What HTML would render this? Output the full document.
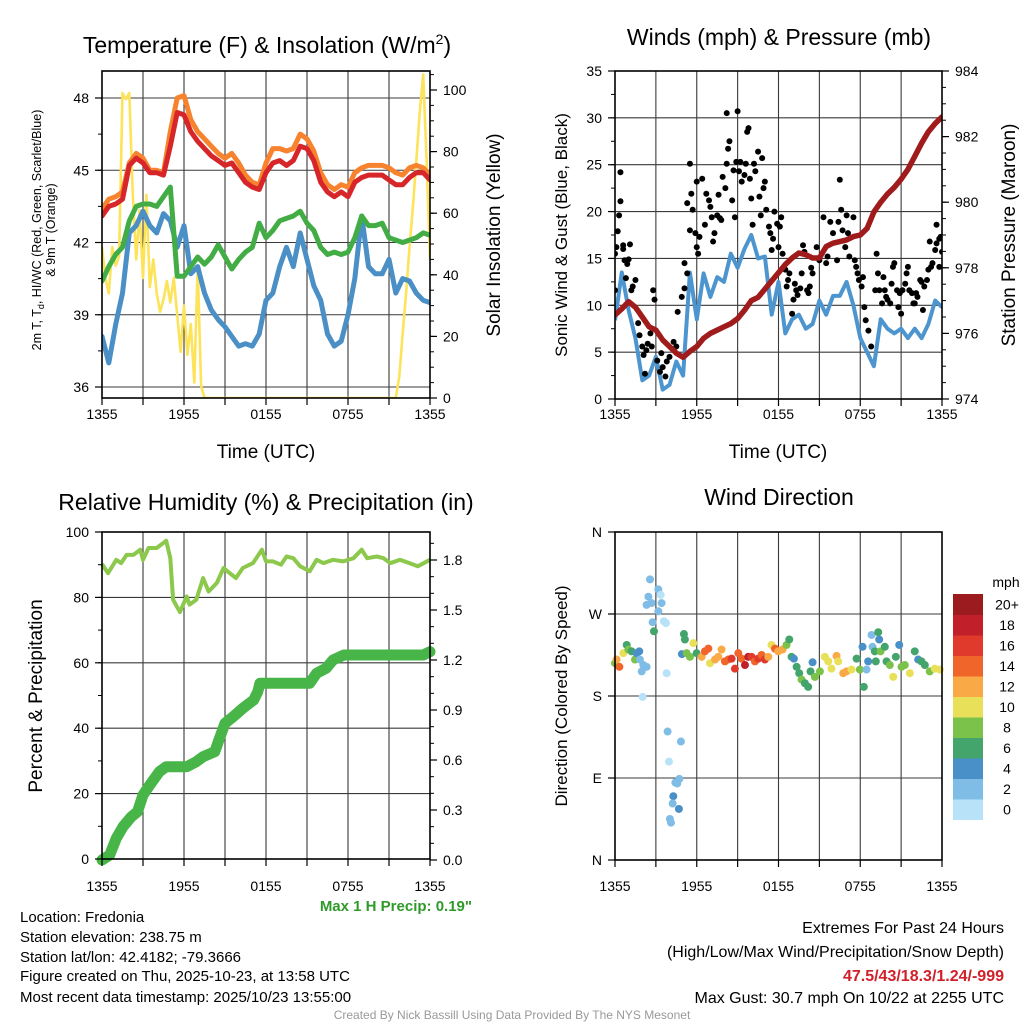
<!DOCTYPE html>
<html><head><meta charset="utf-8">
<style>
html,body{margin:0;padding:0;background:#fff;}
svg{display:block;font-family:"Liberation Sans",Arial,sans-serif;}
</style></head>
<body>
<svg id="chart" width="1024" height="1024" viewBox="0 0 1024 1024" xmlns="http://www.w3.org/2000/svg">
<rect x="0" y="0" width="1024" height="1024" fill="#fff"/>
<text x="267" y="53" font-size="23" text-anchor="middle">Temperature (F) &amp; Insolation (W/m<tspan font-size="14" dy="-9">2</tspan><tspan dy="9">)</tspan></text>
<text x="779" y="45" font-size="23" text-anchor="middle">Winds (mph) &amp; Pressure (mb)</text>
<text x="266" y="510" font-size="23" text-anchor="middle">Relative Humidity (%) &amp; Precipitation (in)</text>
<text x="779" y="505" font-size="23" text-anchor="middle">Wind Direction</text>

<text font-size="12.5" text-anchor="middle" transform="translate(41,230) rotate(-90)">2m T, T<tspan font-size="9" dy="3">d</tspan><tspan dy="-3">, HI/WC (Red, Green, Scarlet/Blue)</tspan></text>
<text font-size="12.5" text-anchor="middle" transform="translate(55,230) rotate(-90)">&amp; 9m T (Orange)</text>
<text font-size="19" text-anchor="middle" transform="translate(500,235) rotate(-90)">Solar Insolation (Yellow)</text>
<text font-size="17" text-anchor="middle" transform="translate(567,235) rotate(-90)">Sonic Wind &amp; Gust (Blue, Black)</text>
<text font-size="19" text-anchor="middle" transform="translate(1015,235) rotate(-90)">Station Pressure (Maroon)</text>
<text font-size="19" text-anchor="middle" transform="translate(42,696) rotate(-90)">Percent &amp; Precipitation</text>
<text font-size="17" text-anchor="middle" transform="translate(567,696) rotate(-90)">Direction (Colored By Speed)</text>
<text x="266" y="458" font-size="19" text-anchor="middle">Time (UTC)</text>
<text x="778" y="458" font-size="19" text-anchor="middle">Time (UTC)</text>

<text x="472" y="911" font-size="15" font-weight="bold" fill="#2f9a2a" text-anchor="end">Max 1 H Precip: 0.19"</text>
<g font-size="15" fill="#000">
<text x="20" y="922">Location: Fredonia</text>
<text x="20" y="942">Station elevation: 238.75 m</text>
<text x="20" y="962">Station lat/lon: 42.4182; -79.3666</text>
<text x="20" y="981">Figure created on Thu, 2025-10-23, at 13:58 UTC</text>
<text x="20" y="1002">Most recent data timestamp: 2025/10/23 13:55:00</text>
</g>
<g font-size="16" text-anchor="end">
<text x="1004" y="933">Extremes For Past 24 Hours</text>
<text x="1004" y="957">(High/Low/Max Wind/Precipitation/Snow Depth)</text>
<text x="1004" y="981" font-weight="bold" fill="#d0202a">47.5/43/18.3/1.24/-999</text>
<text x="1004" y="1003">Max Gust: 30.7 mph On 10/22 at 2255 UTC</text>
</g>
<text x="512" y="1019" font-size="12" fill="#999" text-anchor="middle">Created By Nick Bassill Using Data Provided By The NYS Mesonet</text>
<g id="layer"></g>
</svg>
<script>
// ---------- data ----------
const halfHours = [0,0.5,1,1.5,2,2.5,3,3.5,4,4.5,5,5.5,6,6.5,7,7.5,8,8.5,9,9.5,10,10.5,11,11.5,12,12.5,13,13.5,14,14.5,15,15.5,16,16.5,17,17.5,18,18.5,19,19.5,20,20.5,21,21.5,22,22.5,23,23.5,24];
const tempRed = [43.1,43.5,43.6,43.8,45.2,45.5,45.3,44.9,44.9,44.8,46.0,47.4,47.3,46.6,46.2,45.9,45.6,45.4,45.2,45.3,44.9,44.5,44.3,44.2,44.9,45.3,45.4,45.2,45.4,46.0,45.9,45.4,44.5,44.1,43.9,44.1,43.9,44.5,44.7,44.8,44.8,44.8,44.6,44.4,44.4,44.7,44.9,44.9,44.6];
const temp9m = [43.4,43.8,43.9,44.1,45.3,45.7,45.5,45.0,45.0,44.9,46.6,48.0,48.1,47.1,46.6,46.3,46.0,45.7,45.5,45.7,45.3,44.8,44.5,44.4,45.3,45.9,45.9,45.8,45.9,46.5,46.3,45.8,44.9,44.4,44.2,44.4,44.3,44.9,45.1,45.2,45.2,45.2,45.1,44.9,44.8,45.1,45.2,45.1,44.8];
const dewGreen = [40.4,41.0,41.5,41.8,42.9,43.5,43.6,43.6,43.5,43.9,44.3,40.6,40.6,41.0,41.4,41.1,41.4,41.9,41.4,40.9,41.3,41.6,41.8,42.8,42.2,42.5,42.9,43.0,43.1,43.3,42.8,42.5,41.8,41.5,41.6,41.5,41.6,42.2,43.1,42.7,42.7,42.8,42.2,42.1,42.0,42.1,42.2,42.4,42.3];
const windChill = [38.1,37.0,38.6,39.9,42.4,42.7,43.3,42.7,42.4,43.2,42.9,41.8,42.7,40.7,41.0,39.9,39.2,38.8,38.5,38.1,37.7,37.8,37.7,38.2,39.6,39.9,41.0,41.8,41.0,42.4,41.3,40.2,39.6,38.2,37.7,37.9,39.0,40.5,43.1,41.0,40.7,40.7,41.3,39.9,40.5,40.4,39.9,39.6,39.5];
const solarHours = [0,0.25,0.5,0.75,1,1.25,1.5,1.75,2,2.25,2.5,2.75,3,3.25,3.5,3.75,4,4.25,4.5,4.75,5,5.25,5.5,5.75,6,6.25,6.5,6.75,7,7.25,7.5,21.5,21.75,22,22.25,22.5,22.75,23,23.25,23.5,23.75,24];
const solarVals = [49,39,34,49,43,46,99,97,99,66,45,61,39,66,36,45,34,28,32,38,31,39,27,15,30,14,24,5,43,4,0,0,7,21,34,49,62,77,93,105,77,45];

const windSpeed = [8.4,13.5,9.5,6.5,2.0,2.5,4.5,1.0,1.5,4.0,2.5,13.5,8.5,13.4,10.9,13.0,12.5,15.5,14.0,16.0,17.5,15.0,15.2,9.0,12.5,7.0,8.5,9.0,7.5,8.0,10.5,9.0,11.0,11.0,12.5,10.0,6.5,5.0,3.5,8.5,7.5,7.0,7.5,6.5,7.5,6.5,8.0,10.5,9.8];
const pressure = [976.56,976.75,976.97,976.8,976.5,976.2,976.1,975.8,975.6,975.4,975.27,975.45,975.6,975.85,976.0,976.1,976.2,976.3,976.45,976.7,977.0,977.1,977.35,977.6,977.85,978.1,978.3,978.45,978.4,978.3,978.3,978.65,978.75,978.8,978.85,978.95,979.0,979.2,979.7,980.0,980.25,980.45,980.7,981.0,981.4,981.8,982.15,982.4,982.6];
const gustHours = [0,0,0.1,0.2,0.3,0.4,0.4,0.6,0.6,0.7,0.9,1.0,1.1,0.8,1.2,1.3,1.5,1.7,1.8,2.0,2.1,2.2,2.3,2.4,2.6,2.7,2.8,2.9,3.1,3.3,3.4,3.5,3.7,3.8,4.0,4.3,4.5,4.6,4.9,5.1,5.1,5.3,5.3,5.5,5.5,5.6,5.7,5.9,6.0,6.0,6.1,6.2,6.4,6.6,6.7,6.9,7.0,7.1,7.2,7.3,7.5,7.6,7.7,7.8,7.9,8.1,8.2,8.2,8.3,8.4,8.6,8.7,8.8,8.9,9.0,9.1,9.2,9.3,9.5,9.6,9.7,9.8,9.9,10.0,10.1,10.2,10.3,10.5,10.6,10.7,10.8,10.9,11.0,11.1,11.3,11.4,11.5,11.6,11.7,11.9,12.0,12.1,12.2,12.3,12.5,12.6,12.7,12.8,13.0,13.1,13.2,13.3,13.4,13.6,13.7,13.8,13.9,14.1,14.2,14.3,14.4,14.5,14.8,15.0,15.3,15.5,15.6,15.8,16.0,16.3,16.4,16.5,16.6,16.7,16.9,17.0,17.1,17.2,17.5,17.6,17.7,17.8,17.9,18.1,18.2,18.3,18.4,18.6,18.8,19.1,19.2,19.3,19.4,19.6,19.7,19.8,19.9,20.0,20.2,20.3,20.4,20.5,20.7,20.8,20.9,21.0,21.1,21.3,21.4,21.5,21.6,21.8,21.9,22.0,22.1,22.2,22.4,22.5,22.6,22.7,22.9,23.0,23.1,23.2,23.3,23.5,23.6,23.6,23.8,23.8,23.9,24.0];
const gustVals = [11.6,15.5,16.2,17.9,19.6,21.1,24.2,16.4,16.0,14.8,14.4,14.9,16.5,12.9,11.6,12.0,12.7,8.1,6.8,5.6,4.7,2.7,5.2,5.9,7.0,5.6,11.6,10.6,4.1,2.9,4.9,3.4,2.4,4.0,4.5,6.1,5.6,9.3,10.9,11.8,14.5,13.4,20.9,18.0,25.1,21.9,20.2,17.7,23.2,16.2,15.5,17.3,23.5,18.6,21.9,21.2,20.5,19.4,16.8,17.7,19.6,21.8,19.3,19.1,23.7,22.5,25.1,30.5,26.7,27.5,21.2,24.4,19.4,25.3,30.7,24.3,25.3,23.2,23.9,25.1,28.5,28.9,23.5,21.4,18.6,25.1,24.3,26.4,21.6,19.6,25.7,22.5,23.2,20.2,18.4,17.7,15.9,17.1,20.0,18.7,16.2,18.4,19.4,15.5,13.8,12.0,12.7,13.4,9.1,10.6,12.3,11.6,11.1,11.8,13.4,16.4,15.7,11.6,11.3,12.0,14.0,13.4,16.2,14.8,19.4,14.5,15.2,18.9,17.7,14.8,18.9,23.4,20.2,18.0,16.2,19.6,17.7,15.2,19.4,14.8,14.1,13.4,12.7,12.0,13.0,9.8,8.4,7.3,5.6,11.6,15.5,13.4,11.6,10.2,13.0,11.6,10.9,10.6,10.2,12.3,14.1,14.5,11.6,9.8,11.3,9.1,11.6,12.3,13.4,14.1,11.6,11.3,10.2,10.2,11.3,10.9,12.7,12.5,9.5,12.0,12.7,13.8,16.8,14.1,14.5,15.9,16.6,18.6,17.1,14.1,17.3,15.7];

const rhHours = [0,0.44,1.05,1.4,1.8,2.3,2.8,3.0,3.4,4.0,4.7,5.0,5.2,5.7,6.2,6.4,6.9,7.4,7.8,8.4,8.9,9.35,9.8,10.3,11.05,11.7,12.0,12.5,13.1,13.5,14.0,14.5,15.2,15.7,16.2,16.9,17.65,18.4,19.0,19.4,20.1,20.6,21.1,21.8,22.5,23.1,24];
const rhVals = [90.2,87.4,91.5,90.5,93,93,94.6,91.5,95.1,95.1,97.3,92,79.3,75.5,80.3,77.8,79.3,85.9,81.8,84.4,89,87.4,85.9,89,90.5,94.6,91,91,90,92.5,92,89.5,88,91.5,90.5,91.5,91,92,94.6,92,92.5,92,90.5,91.5,90.5,89.5,91.5];
const precipHours = [0,0.56,1.05,1.54,2.15,2.6,3.0,3.5,4.2,4.7,6.2,6.9,7.4,8.25,8.6,9.0,9.6,10.3,11.1,11.4,11.55,15.2,15.7,16.4,16.9,17.7,23.5,24];
const precipVals = [0,0.03,0.13,0.2,0.26,0.29,0.39,0.45,0.53,0.56,0.56,0.59,0.62,0.65,0.73,0.82,0.86,0.91,0.96,1.01,1.06,1.06,1.12,1.15,1.20,1.23,1.23,1.25];

const dirHours = [0.0,0.12,0.32,0.61,0.86,0.98,1.22,1.47,1.59,1.78,1.83,2.08,1.96,2.03,2.32,2.57,2.45,2.69,2.32,2.76,2.86,3.18,3.35,3.42,3.18,3.59,3.74,3.79,3.86,3.96,4.84,4.72,4.43,4.57,4.28,4.23,4.69,4.03,4.11,5.06,5.13,4.91,5.26,5.50,5.75,5.99,6.36,6.60,6.85,6.97,7.34,7.58,7.82,8.07,8.31,8.56,8.80,9.05,9.29,9.54,9.78,10.02,10.27,10.51,10.76,11.00,11.25,11.49,11.74,11.98,12.30,12.59,12.79,12.96,13.13,13.33,13.52,13.69,13.94,14.18,14.35,14.50,14.67,15.04,15.40,15.65,15.89,16.26,16.38,16.75,16.99,17.36,17.73,17.97,18.17,18.26,18.46,18.58,18.83,18.90,19.07,19.14,19.32,19.39,19.49,19.80,19.93,20.17,20.42,20.61,20.86,21.03,21.27,21.64,22.00,22.25,22.49,22.74,23.10,23.47,23.84];
const dirDeg = [216,220,212,227,236,231,229,220,227,229,220,214,207,179,212,308,289,282,280,261,251,297,291,282,273,262,260,205,141,108,130,89,85,84,70,62,56,45,41,248,242,226,227,223,238,227,223,229,232,216,220,223,231,218,220,221,210,227,221,214,223,223,218,221,225,220,223,236,232,229,231,236,242,223,221,212,205,198,194,190,207,217,201,207,223,218,210,224,218,205,207,209,221,209,234,190,209,218,247,234,229,218,250,242,229,234,218,214,201,223,236,212,214,205,229,220,218,214,207,210,209];
const dirSpeed = [9,12,14,10,7,8,7,8,4,4,3,2,2,1,2,2,2,3,2,3,6,2,1,2,3,1,1,1,2,1,2,2,3,3,4,2,4,2,2,6,7,4,9,8,10,6,12,14,14,10,12,13,12,14,15,16,17,14,15,18,19,16,14,16,14,16,13,10,15,12,12,9,6,6,5,6,7,9,7,7,7,5,9,8,11,10,11,12,10,13,12,10,6,8,4,7,3,5,3,2,7,7,6,5,8,7,7,9,10,6,5,8,9,10,6,5,6,6,9,10,10];
const speedColors = ["#b8e2f8","#80bde6","#4a90c8","#43a56b","#7bc24a","#e9e05a","#f9aa47","#f06529","#e03a2c","#c1202a","#9b1b1f"];
const speedLabels = ["0","2","4","6","8","10","12","14","16","18","20+"];
const timeLabels = ["1355","1955","0155","0755","1355"];

// ---------- helpers ----------
const NS = "http://www.w3.org/2000/svg";
const layer = document.getElementById("layer");
function mk(tag, attrs, parent) {
  const e = document.createElementNS(NS, tag);
  for (const k in attrs) e.setAttribute(k, attrs[k]);
  (parent || layer).appendChild(e);
  return e;
}
function linScale(d0, d1, r0, r1) { return v => r0 + (v - d0) * (r1 - r0) / (d1 - d0); }
function pathFrom(xs, ys, fx, fy) {
  let d = "";
  for (let i = 0; i < xs.length; i++) d += (i ? "L" : "M") + fx(xs[i]).toFixed(1) + "," + fy(ys[i]).toFixed(1);
  return d;
}

function panelFrame(name, x0, x1, y0, y1, fx, hGrid, fyGrid) {
  const g = mk("g", {});
  
  
  for (let h = 3; h < 24; h += 3) mk("line", {x1: fx(h), x2: fx(h), y1: y0, y2: y1, stroke: "#3a3a3a", "stroke-width": 1.1}, g);
  hGrid.forEach(v => { const y = fyGrid(v); mk("line", {x1: x0, x2: x1, y1: y, y2: y, stroke: "#3a3a3a", "stroke-width": 1.1}, g); });
  return g;
}
function frameBox(name, x0, x1, y0, y1) {
  const r = mk("rect", {x: x0, y: y0, width: x1 - x0, height: y1 - y0, fill: "none", stroke: "#000", "stroke-width": 1.6});
  
  
}
function xAxis(name, fx, y1, labelY) {
  const g = mk("g", {});
  
  
  for (let h = 0; h <= 24; h += 3) mk("line", {x1: fx(h), x2: fx(h), y1: y1, y2: y1 + 7, stroke: "#000", "stroke-width": 1.2}, g);
  timeLabels.forEach((t, i) => {
    const tx = mk("text", {x: fx(i * 6), y: labelY, "font-size": 14, "text-anchor": "middle"}, g);
    tx.textContent = t;
  });
}
function yAxis(name, side, xEdge, fy, majors, minors, fmt) {
  const g = mk("g", {});
  
  
  const dir = side === "left" ? -1 : 1;
  minors.forEach(v => { const y = fy(v); mk("line", {x1: xEdge, x2: xEdge + dir * 4, y1: y, y2: y, stroke: "#000", "stroke-width": 1}, g); });
  majors.forEach(v => {
    const y = fy(v);
    mk("line", {x1: xEdge, x2: xEdge + dir * 7, y1: y, y2: y, stroke: "#000", "stroke-width": 1.2}, g);
    const t = mk("text", {x: xEdge + dir * 13, y: y + 5, "font-size": 14, "text-anchor": side === "left" ? "end" : "start"}, g);
    t.textContent = fmt(v);
  });
}
function range(a, b, s) { const r = []; for (let v = a; v <= b + 1e-9; v += s) r.push(+v.toFixed(4)); return r; }

// ---------- Panel 1: temperature ----------
{
  const x0 = 102, x1 = 430, y0 = 71, y1 = 398;
  const fx = linScale(0, 24, x0, x1);
  const fyT = linScale(36, 48, 387, 98);
  const fyS = linScale(0, 100, 398, 90);
  panelFrame("temperature", x0, x1, y0, y1, fx, [36, 39, 42, 45, 48], fyT);
  const clip = mk("clipPath", {id: "c1"}); mk("rect", {x: x0, y: y0, width: x1 - x0, height: y1 - y0}, clip);
  const g = mk("g", {"clip-path": "url(#c1)"});
  const sol = mk("path", {d: pathFrom(solarHours, solarVals, fx, fyS), fill: "none", stroke: "#fde35a", "stroke-width": 2.6, "stroke-linejoin": "round"}, g);
  
  
  const series = [["wind-chill-line", windChill, "#4a8fc6"], ["dewpoint-line", dewGreen, "#42ad44"], ["temp-9m-line", temp9m, "#f7832f"], ["temp-2m-line", tempRed, "#d7262a"]];
  series.forEach(s => {
    const p = mk("path", {d: pathFrom(halfHours, s[1], fx, fyT), fill: "none", stroke: s[2], "stroke-width": 5, "stroke-linejoin": "round", "stroke-linecap": "round"}, g);
    
    
  });
  frameBox("temperature", x0, x1, y0, y1);
  xAxis("temperature", fx, y1, 419);
  yAxis("temperature-y-axis", "left", x0, fyT, [36, 39, 42, 45, 48], range(34.5, 49.5, 1.5).filter(v => fyT(v) >= y0 && fyT(v) <= y1), v => String(v));
  yAxis("insolation-y-axis", "right", x1, fyS, [0, 20, 40, 60, 80, 100], range(0, 105, 5), v => String(v));
}

// ---------- Panel 2: winds & pressure ----------
{
  const x0 = 615, x1 = 942, y0 = 71, y1 = 399;
  const fx = linScale(0, 24, x0, x1);
  const fyW = linScale(0, 35, y1, y0);
  const fyP = linScale(974, 984, y1, y0);
  panelFrame("winds", x0, x1, y0, y1, fx, [5, 10, 15, 20, 25, 30], fyW);
  const clip = mk("clipPath", {id: "c2"}); mk("rect", {x: x0, y: y0, width: x1 - x0, height: y1 - y0}, clip);
  const g = mk("g", {"clip-path": "url(#c2)"});
  const w = mk("path", {d: pathFrom(halfHours, windSpeed, fx, fyW), fill: "none", stroke: "#4d95cf", "stroke-width": 4, "stroke-linejoin": "round"}, g);
  
  
  const gg = mk("g", {}, g);
  
  
  gustHours.forEach((h, i) => {
    const c = mk("circle", {cx: fx(h), cy: fyW(gustVals[i]), r: 3, fill: "#000"}, gg);
    
    
  });
  const p = mk("path", {d: pathFrom(halfHours, pressure, fx, fyP), fill: "none", stroke: "#a01b1b", "stroke-width": 5.5, "stroke-linejoin": "round", "stroke-linecap": "round"}, g);
  
  
  frameBox("winds", x0, x1, y0, y1);
  xAxis("winds", fx, y1, 419);
  yAxis("wind-y-axis", "left", x0, fyW, [0, 5, 10, 15, 20, 25, 30, 35], range(0, 35, 2.5), v => String(v));
  yAxis("pressure-y-axis", "right", x1, fyP, [974, 976, 978, 980, 982, 984], range(974, 984, 0.5), v => String(v));
}

// ---------- Panel 3: RH & precip ----------
{
  const x0 = 102, x1 = 430, y0 = 532, y1 = 859;
  const fx = linScale(0, 24, x0, x1);
  const fyR = linScale(0, 100, y1, y0);
  const fyP = linScale(0, 1.8, 860, 560);
  panelFrame("humidity", x0, x1, y0, y1, fx, [20, 40, 60, 80], fyR);
  const g = mk("g", {});
  const r = mk("path", {d: pathFrom(rhHours, rhVals, fx, fyR), fill: "none", stroke: "#8cc84b", "stroke-width": 4, "stroke-linejoin": "round"}, g);
  
  
  const p = mk("path", {d: pathFrom(precipHours, precipVals, fx, fyP), fill: "none", stroke: "#48b548", "stroke-width": 11, "stroke-linejoin": "round", "stroke-linecap": "round"}, g);
  
  
  frameBox("humidity", x0, x1, y0, y1);
  xAxis("humidity", fx, y1, 891);
  yAxis("percent-y-axis", "left", x0, fyR, [0, 20, 40, 60, 80, 100], range(0, 100, 10), v => String(v));
  yAxis("precip-y-axis", "right", x1, fyP, [0, 0.3, 0.6, 0.9, 1.2, 1.5, 1.8], range(0, 1.9, 0.1), v => v.toFixed(1));
}

// ---------- Panel 4: wind direction ----------
{
  const x0 = 615, x1 = 942, y0 = 532, y1 = 860;
  const fx = linScale(0, 24, x0, x1);
  const fyD = linScale(0, 360, y1, y0);
  panelFrame("direction", x0, x1, y0, y1, fx, [90, 180, 270], fyD);
  const g = mk("g", {});
  
  
  dirHours.forEach((h, i) => {
    const idx = Math.min(10, Math.floor(dirSpeed[i] / 2));
    const c = mk("circle", {cx: fx(h), cy: fyD(dirDeg[i]), r: 4, fill: speedColors[idx]}, g);
    
    
  });
  frameBox("direction", x0, x1, y0, y1);
  xAxis("direction", fx, y1, 891);
  const names = ["N", "E", "S", "W", "N"];
  yAxis("direction-y-axis", "left", x0, fyD, [0, 90, 180, 270, 360], [], v => names[v / 90]);
  // colorbar
  const cb = mk("g", {});
  
  
  const top = 594, bh = 20.5;
  speedColors.forEach((col, i) => {
    const y = top + (10 - i) * bh;
    const rr = mk("rect", {x: 953, y: y, width: 30, height: bh + 0.5, fill: col}, cb);
    
    
    const t = mk("text", {x: 1007, y: y + bh / 2 + 5, "font-size": 14, "text-anchor": "middle"}, cb);
    t.textContent = speedLabels[i];
  });
  const u = mk("text", {x: 1006, y: 587, "font-size": 14, "text-anchor": "middle"}, cb);
  u.textContent = "mph";
}
</script>
</body></html>
